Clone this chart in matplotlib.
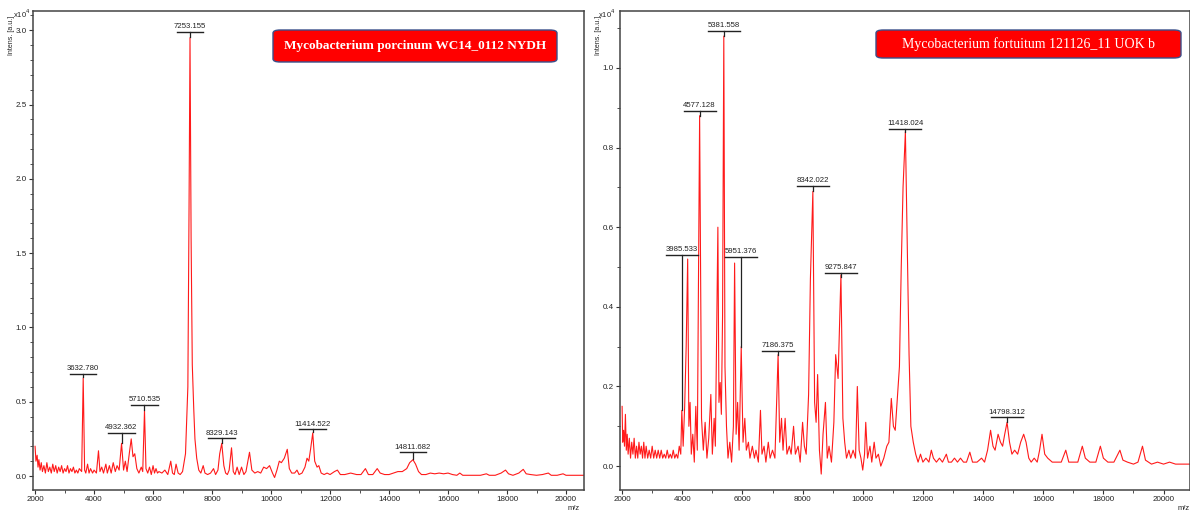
import matplotlib
matplotlib.use("Agg")
import matplotlib.pyplot as plt
from matplotlib.patches import FancyBboxPatch
from matplotlib.ticker import MultipleLocator, FuncFormatter

plt.rcParams['font.family'] = ['Liberation Sans Narrow', 'Liberation Sans', 'DejaVu Sans']

# ---------------- data ----------------
left_title = "Mycobacterium porcinum WC14_0112 NYDH"
right_title = "Mycobacterium fortuitum 121126_11 UOK b"

left_mz = [2000, 2030, 2070, 2100, 2130, 2170, 2210, 2250, 2300, 2350, 2400, 2450, 2500, 2550,
           2600, 2650, 2700, 2750, 2800, 2850, 2900, 2950, 3000, 3050, 3100, 3150, 3200, 3250,
           3300, 3350, 3400, 3450, 3500, 3580, 3632, 3680, 3720, 3780, 3830, 3880, 3950, 4000,
           4080, 4150, 4200, 4260, 4320, 4400, 4450, 4520, 4580, 4650, 4720, 4780, 4850, 4932,
           5000, 5060, 5120, 5200, 5260, 5320, 5380, 5450, 5520, 5600, 5650, 5710, 5760, 5820,
           5880, 5940, 6000, 6050, 6100, 6150, 6200, 6300, 6400, 6500, 6600, 6660, 6720, 6780,
           6850, 6920, 7000, 7100, 7180, 7220, 7253, 7290, 7330, 7380, 7420, 7480, 7550, 7620,
           7700, 7760, 7850, 7950, 8050, 8120, 8200, 8260, 8329, 8400, 8460, 8520, 8580, 8660,
           8720, 8780, 8850, 8920, 9000, 9080, 9150, 9270, 9350, 9450, 9550, 9650, 9750, 9850,
           9950, 10050, 10120, 10200, 10280, 10350, 10450, 10550, 10620, 10700, 10800, 10880,
           10950, 11050, 11150, 11220, 11280, 11340, 11414, 11480, 11560, 11620, 11700, 11800,
           11900, 12000, 12150, 12250, 12350, 12500, 12700, 12900, 13050, 13200, 13300, 13450,
           13600, 13700, 13850, 14000, 14150, 14300, 14450, 14600, 14700, 14811, 14900, 15000,
           15100, 15250, 15400, 15550, 15700, 15850, 16000, 16150, 16300, 16400, 16500, 16700,
           16900, 17100, 17300, 17400, 17600, 17800, 17950, 18050, 18200, 18400, 18550, 18650,
           18800, 19000, 19200, 19400, 19500, 19700, 19900, 20000, 20200, 20600]
left_int = [0.20, 0.10, 0.14, 0.06, 0.11, 0.04, 0.09, 0.03, 0.07, 0.02, 0.09, 0.03, 0.06, 0.02,
            0.08, 0.03, 0.07, 0.02, 0.06, 0.03, 0.07, 0.02, 0.05, 0.03, 0.07, 0.02, 0.05, 0.03,
            0.06, 0.02, 0.04, 0.02, 0.05, 0.03, 0.66, 0.04, 0.02, 0.08, 0.02, 0.05, 0.02, 0.04,
            0.02, 0.17, 0.03, 0.06, 0.02, 0.08, 0.02, 0.07, 0.02, 0.09, 0.03, 0.07, 0.04, 0.22,
            0.04, 0.10, 0.03, 0.16, 0.25, 0.13, 0.15, 0.05, 0.02, 0.06, 0.03, 0.44, 0.05, 0.02,
            0.06, 0.01, 0.07, 0.02, 0.05, 0.02, 0.03, 0.02, 0.04, 0.01, 0.10, 0.02, 0.01, 0.08,
            0.02, 0.01, 0.03, 0.15, 0.60, 1.80, 2.95, 1.60, 0.75, 0.45, 0.25, 0.12, 0.04, 0.02,
            0.07, 0.02, 0.01, 0.02, 0.05, 0.01, 0.04, 0.15, 0.22, 0.07, 0.02, 0.01, 0.04, 0.19,
            0.03, 0.01, 0.06, 0.01, 0.06, 0.01, 0.03, 0.16, 0.04, 0.02, 0.03, 0.02, 0.06, 0.05,
            0.07, 0.02, -0.01, 0.04, 0.10, 0.09, 0.12, 0.18, 0.05, 0.02, 0.02, 0.04,
            0.01, 0.02, 0.06, 0.12, 0.10, 0.18, 0.29, 0.10, 0.06, 0.07, 0.02, 0.01,
            0.02, 0.01, 0.03, 0.04, 0.01, 0.01, 0.02, 0.01, 0.01, 0.05, 0.01, 0.01,
            0.05, 0.02, 0.01, 0.01, 0.02, 0.03, 0.03, 0.05, 0.09, 0.11, 0.08, 0.03,
            0.01, 0.01, 0.02, 0.015, 0.02, 0.015, 0.02, 0.01, 0.005, 0.02, 0.005, 0.005,
            0.005, 0.005, 0.015, 0.005, 0.005, 0.02, 0.04, 0.015, 0.005, 0.02, 0.045, 0.015,
            0.01, 0.005, 0.01, 0.02, 0.005, 0.005, 0.015, 0.005, 0.005, 0.005]

right_mz = [2000, 2020, 2050, 2080, 2110, 2140, 2170, 2200, 2240, 2280, 2320, 2360, 2400, 2440,
            2480, 2520, 2560, 2600, 2640, 2680, 2720, 2760, 2800, 2850, 2900, 2950, 3000, 3050,
            3100, 3150, 3200, 3250, 3300, 3350, 3400, 3450, 3500, 3550, 3600, 3650, 3700, 3750,
            3800, 3850, 3900, 3950, 3985, 4030, 4080, 4130, 4180, 4220, 4260, 4300, 4350, 4400,
            4450, 4500, 4577, 4640, 4700, 4760, 4820, 4880, 4950, 5000, 5060, 5100, 5184, 5220,
            5260, 5300, 5340, 5381, 5420, 5470, 5520, 5580, 5640, 5700, 5740, 5790, 5840, 5890,
            5960, 6020, 6080, 6130, 6200, 6250, 6330, 6400, 6450, 6530, 6600, 6650, 6720, 6780,
            6860, 6920, 7000, 7080, 7186, 7240, 7300, 7350, 7420, 7480, 7560, 7620, 7700, 7760,
            7850, 7920, 8000, 8060, 8120, 8200, 8260, 8342, 8400, 8450, 8500, 8560, 8620, 8680,
            8760, 8820, 8880, 8960, 9040, 9100, 9180, 9275, 9340, 9400, 9460, 9540, 9600, 9680,
            9760, 9820, 9880, 9940, 10000, 10060, 10100, 10160, 10240, 10300, 10380, 10440,
            10520, 10600, 10700, 10800, 10870, 10950, 11020, 11080, 11150, 11220, 11280, 11340,
            11418, 11480, 11540, 11600, 11680, 11760, 11840, 11920, 12000, 12100, 12200, 12280,
            12350, 12450, 12550, 12650, 12780, 12850, 12950, 13050, 13150, 13250, 13350, 13450,
            13560, 13650, 13800, 13950, 14050, 14150, 14250, 14330, 14400, 14500, 14580, 14650,
            14720, 14798, 14880, 14960, 15050, 15150, 15250, 15350, 15430, 15520, 15600, 15700,
            15800, 15880, 15960, 16050, 16150, 16300, 16450, 16600, 16750, 16850, 17000, 17150,
            17300, 17400, 17550, 17750, 17900, 18000, 18150, 18350, 18550, 18650, 18800, 19000,
            19150, 19300, 19400, 19600, 19800, 20000, 20200, 20400, 20600, 20900]
right_int = [0.15, 0.06, 0.09, 0.05, 0.13, 0.04, 0.08, 0.03, 0.07, 0.02, 0.06, 0.03, 0.07, 0.02,
             0.05, 0.02, 0.06, 0.03, 0.05, 0.02, 0.06, 0.02, 0.05, 0.02, 0.04, 0.02, 0.05, 0.02,
             0.04, 0.02, 0.04, 0.02, 0.04, 0.02, 0.03, 0.02, 0.04, 0.02, 0.03, 0.02, 0.04, 0.02,
             0.03, 0.02, 0.05, 0.03, 0.14, 0.05, 0.15, 0.30, 0.52, 0.10, 0.16, 0.03, 0.08, 0.01,
             0.15, 0.04, 0.88, 0.12, 0.04, 0.11, 0.02, 0.07, 0.18, 0.03, 0.12, 0.05, 0.60, 0.16,
             0.21, 0.13, 0.38, 1.08, 0.25, 0.10, 0.02, 0.06, 0.01, 0.10, 0.51, 0.08, 0.16, 0.04,
             0.30, 0.06, 0.12, 0.04, 0.06, 0.02, 0.05, 0.02, 0.04, 0.01, 0.14, 0.03, 0.05, 0.01,
             0.06, 0.02, 0.04, 0.02, 0.28, 0.06, 0.12, 0.04, 0.12, 0.03, 0.05, 0.03, 0.10, 0.03,
             0.05, 0.01, 0.11, 0.05, 0.03, 0.18, 0.47, 0.69, 0.16, 0.11, 0.23, 0.04, -0.02, 0.08,
             0.16, 0.02, 0.05, 0.01, 0.11, 0.28, 0.22, 0.48, 0.12, 0.06, 0.02, 0.04, 0.02, 0.04,
             0.02, 0.20, 0.04, 0.02, -0.01, 0.03, 0.11, 0.02, 0.05, 0.01, 0.06, 0.02,
             0.03, 0.00, 0.02, 0.05, 0.06, 0.17, 0.10, 0.09, 0.17, 0.25, 0.50, 0.70,
             0.84, 0.55, 0.28, 0.10, 0.06, 0.03, 0.01, 0.03, 0.01, 0.02, 0.01, 0.04,
             0.02, 0.01, 0.02, 0.01, 0.03, 0.01, 0.01, 0.02, 0.01, 0.02, 0.01, 0.01,
             0.035, 0.01, 0.01, 0.02, 0.01, 0.04, 0.09, 0.05, 0.04, 0.08, 0.06, 0.05,
             0.08, 0.11, 0.06, 0.03, 0.04, 0.03, 0.06, 0.08, 0.06, 0.02, 0.01, 0.02,
             0.01, 0.04, 0.08, 0.03, 0.02, 0.01, 0.01, 0.01, 0.04, 0.01, 0.01, 0.01,
             0.05, 0.02, 0.01, 0.01, 0.05, 0.02, 0.01, 0.01, 0.04, 0.015, 0.01, 0.005,
             0.01, 0.05, 0.015, 0.005, 0.01, 0.005, 0.01, 0.005, 0.005, 0.005]

# peak labels: text, m/z, bar level, end of the leader line
left_labels = ["3632.780", "4932.362", "5710.535", "7253.155", "8329.143", "11414.522", "14811.682"]
left_label_mz = [3632, 4932, 5710, 7253, 8329, 11414, 14811]
left_label_bar = [0.69, 0.29, 0.48, 2.99, 0.255, 0.316, 0.16]
left_label_end = [0.665, 0.225, 0.445, 2.955, 0.225, 0.295, 0.115]

right_labels = ["3985.533", "4577.128", "5381.558", "5951.376", "7186.375", "8342.022",
                "9275.847", "11418.024", "14798.312"]
right_label_mz = [3985, 4577, 5381, 5951, 7186, 8342, 9275, 11418, 14798]
right_label_bar = [0.53, 0.892, 1.093, 0.525, 0.289, 0.704, 0.485, 0.847, 0.123]
right_label_end = [0.14, 0.88, 1.08, 0.30, 0.28, 0.69, 0.475, 0.84, 0.11]

W, H = 1190, 513
fig = plt.figure(figsize=(W / 100, H / 100), dpi=100)
fig.patch.set_facecolor("white")

def px_axes(x0, y0, x1, y1):
    return fig.add_axes([x0 / W, 1 - y1 / H, (x1 - x0) / W, (y1 - y0) / H])

axL = px_axes(33, 11, 584, 490)
axR = px_axes(620, 11, 1190, 490)

def style(ax, xlim, ylim, major_y, minor_y):
    ax.set_xlim(*xlim)
    ax.set_ylim(*ylim)
    ax.xaxis.set_major_locator(MultipleLocator(2000))
    ax.xaxis.set_minor_locator(MultipleLocator(1000))
    ax.yaxis.set_major_locator(MultipleLocator(major_y))
    ax.yaxis.set_minor_locator(MultipleLocator(minor_y))
    ax.xaxis.set_major_formatter(FuncFormatter(lambda v, p: f"{int(v)}"))
    ax.yaxis.set_major_formatter(FuncFormatter(lambda v, p: f"{v:.1f}"))
    ax.tick_params(axis="both", which="major", labelsize=5.8, length=3, width=0.8,
                   color="#333333", labelcolor="#222222", pad=1.5)
    ax.tick_params(axis="both", which="minor", length=2, width=0.6, color="#333333")
    for s in ax.spines.values():
        s.set_color("#444444")
        s.set_linewidth(1.1)

style(axL, (1930, 20610), (-0.094, 3.13), 0.5, 0.1)
style(axR, (1930, 20880), (-0.06, 1.143), 0.2, 0.1)

axL.plot(left_mz, left_int, color="#ff1a1a", lw=0.8)
axR.plot(right_mz, right_int, color="#ff1a1a", lw=0.8)

def draw_labels(ax, labels, mzs, bars, ends, halfw, dy):
    for t, m, b, e in zip(labels, mzs, bars, ends):
        ax.plot([m - halfw, m + halfw], [b, b], color="#222222", lw=1.0)
        ax.plot([m, m], [b, e], color="#222222", lw=0.9)
        ax.text(m, b + dy, t, ha="center", va="bottom", fontsize=5.6, color="#222222")

draw_labels(axL, left_labels, left_label_mz, left_label_bar, left_label_end, 450, 0.01)
draw_labels(axR, right_labels, right_label_mz, right_label_bar, right_label_end, 530, 0.004)

# axis annotations
for xp in (12, 598):
    fig.text(xp / W, 1 - 35 / H, "Intens. [a.u.]", rotation=90, fontsize=5,
             ha="center", va="center", color="#222222")
fig.text(22 / W, 1 - 14 / H, r"x10$^4$", fontsize=5.5, ha="center", va="center", color="#222222")
fig.text(607 / W, 1 - 14 / H, r"x10$^4$", fontsize=5.5, ha="center", va="center", color="#222222")
fig.text(574 / W, 1 - 508 / H, "m/z", fontsize=5.5, ha="center", va="center", color="#222222")
fig.text(1184 / W, 1 - 508 / H, "m/z", fontsize=5.5, ha="center", va="center", color="#222222")

# title boxes
def title_box(x0, y0, x1, y1, text, weight, size):
    box = FancyBboxPatch((x0 / W, 1 - y1 / H), (x1 - x0) / W, (y1 - y0) / H,
                         boxstyle="round,pad=0,rounding_size=0.006",
                         transform=fig.transFigure, facecolor="#ff0000",
                         edgecolor="#3a4f8a", linewidth=1.0, zorder=5)
    fig.add_artist(box)
    fig.text((x0 + x1) / 2 / W, 1 - (y0 + y1) / 2 / H, text, ha="center", va="center",
             color="white", fontsize=size, fontweight=weight, family="Liberation Serif", zorder=6)

title_box(273, 30, 557, 62, left_title, "bold", 9.5)
title_box(876, 30, 1181, 58, right_title, "normal", 10)

fig.savefig("out.png", dpi=100)
